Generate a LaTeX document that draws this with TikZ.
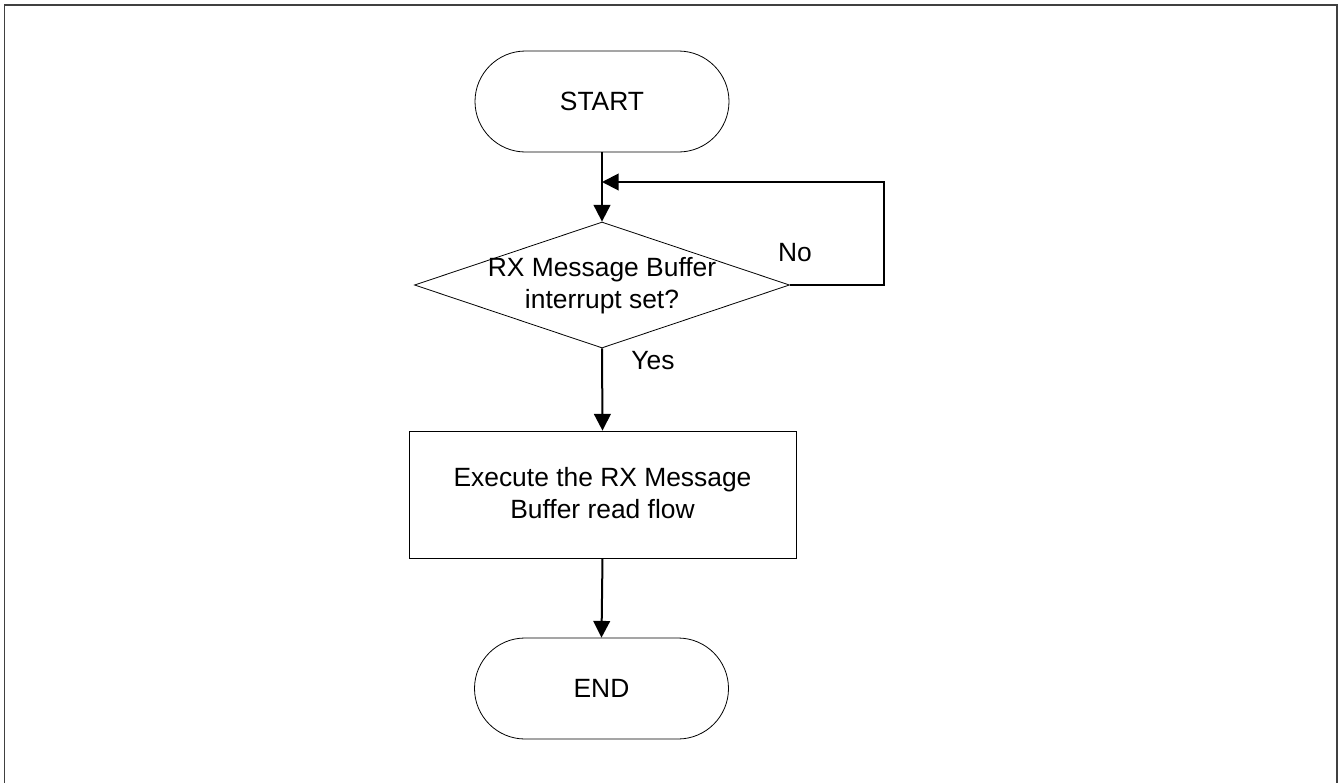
\documentclass[tikz,border=0pt]{standalone}
\usepackage{fontspec}
\setmainfont{Liberation Sans}
\usetikzlibrary{shapes.geometric,shapes.misc,arrows.meta}
\begin{document}
\begin{tikzpicture}[x=0.75pt,y=-0.75pt,
  txt/.style={font=\fontsize{19.8}{24}\selectfont},
  term/.style={txt,draw=black,line width=0.6pt,rounded rectangle,minimum width=254*0.75pt,minimum height=101*0.75pt,inner sep=0pt},
  proc/.style={draw=black,line width=0.6pt,rectangle,minimum width=387*0.75pt,minimum height=127*0.75pt,inner sep=0pt},
  dec/.style={draw=black,line width=0.6pt,diamond,minimum width=375*0.75pt,minimum height=126*0.75pt,aspect=3,inner sep=0pt},
  lbl/.style={txt,inner sep=0pt},
  flow/.style={line width=1.5pt,-{Triangle[length=12.5pt,width=12.5pt]}},
]
\useasboundingbox (0,0) rectangle (1339,782);
\draw[draw={rgb,255:red,64;green,64;blue,64},line width=1.4pt] (4.5,800) -- (4.5,5) -- (1337,5) -- (1337,800);
\node[term] (start) at (602,101.5) {START};
\node[dec] (dec) at (602,285) {};
\node[lbl,align=center] (dectext) at (602,286) {RX Message Buffer\\interrupt set?};
\node[proc] (proc) at (602.5,494.5) {};
\node[lbl,align=center] (proctext) at (602.5,493) {Execute the RX Message\\Buffer read flow};
\node[term] (end) at (601.5,688.5) {END};
\coordinate (merge) at (602,182);
\coordinate (loopR) at (884,285);
\coordinate (loopT) at (884,182);
\draw[flow] (start.south) -- (dec.north);
\draw[flow] (dec.east) -- (loopR) -- (loopT) -- (merge);
\draw[flow] (dec.south) -- (proc.north);
\draw[flow] (proc.south) -- (end.north);
\node[lbl] (no) at (795,253) {No};
\node[lbl] (yes) at (653,361) {Yes};
\end{tikzpicture}
\end{document}
